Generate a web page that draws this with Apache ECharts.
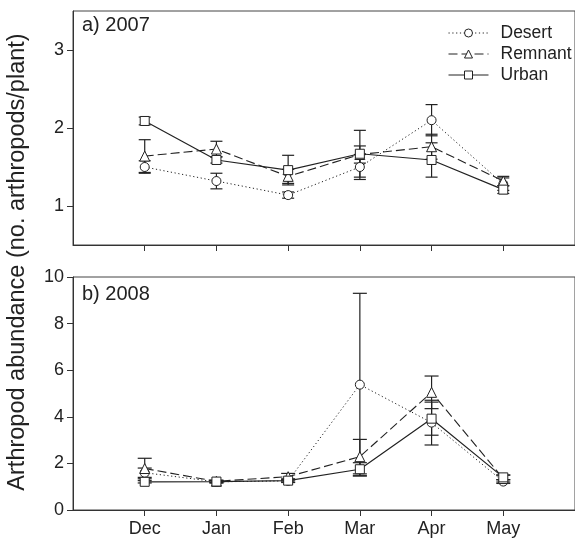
<!DOCTYPE html>
<html lang="en">
<head>
	<meta charset="UTF-8">
	<title>Arthropod abundance</title>
	<script src="https://cdn.jsdelivr.net/npm/echarts@6/dist/echarts.min.js"></script>
	<style>
		* { margin: 0; padding: 0; }
		#container { width: 575px; height: 538px; background: #fff; }
	</style>
</head>
<body>
<div id="container"></div>
<script type="text/javascript">
	// months on the x axis (index 0..5)
	var months = ['Dec', 'Jan', 'Feb', 'Mar', 'Apr', 'May'];

	// a) 2007 - means and error (se)
	var desert07 = [1.50, 1.32, 1.14, 1.50, 2.10, 1.28];
	var desert07Err = [0.08, 0.10, 0.04, 0.16, 0.20, 0.08];
	var remnant07 = [1.64, 1.73, 1.38, 1.66, 1.76, 1.32];
	var remnant07Err = [0.21, 0.10, 0.09, 0.11, 0.16, 0.06];
	var urban07 = [2.09, 1.59, 1.46, 1.67, 1.59, 1.21];
	var urban07Err = [0.05, 0.04, 0.19, 0.30, 0.22, 0.05];

	// b) 2008
	var desert08 = [1.60, 1.21, 1.25, 5.38, 3.75, 1.22];
	var desert08Err = [0.20, 0.05, 0.05, 3.92, 0.96, 0.08];
	var remnant08 = [1.78, 1.23, 1.43, 2.29, 5.05, 1.35];
	var remnant08Err = [0.44, 0.05, 0.14, 0.74, 0.70, 0.15];
	var urban08 = [1.21, 1.22, 1.26, 1.75, 3.92, 1.40];
	var urban08Err = [0.05, 0.05, 0.08, 0.28, 0.71, 0.10];

	var ink = '#222';
	var font = 'Liberation Sans, Arial, sans-serif';

	var myChart = echarts.init(document.getElementById('container'));

	function pts(vals) {
		return vals.map(function (v, i) { return [i, v]; });
	}
	function errData(vals, errs) {
		return vals.map(function (v, i) { return [i, v - errs[i], v + errs[i]]; });
	}

	// error bars with caps
	function errSeries(idx, vals, errs, cap) {
		return {
			type: 'custom',
			xAxisIndex: idx,
			yAxisIndex: idx,
			z: 1,
			silent: true,
			data: errData(vals, errs),
			renderItem: function (params, api) {
				var lo = api.coord([api.value(0), api.value(1)]);
				var hi = api.coord([api.value(0), api.value(2)]);
				var st = { stroke: ink, lineWidth: 1.2 };
				return {
					type: 'group',
					children: [
						{ type: 'line', shape: { x1: lo[0], y1: lo[1], x2: hi[0], y2: hi[1] }, style: st },
						{ type: 'line', shape: { x1: lo[0] - cap, y1: lo[1], x2: lo[0] + cap, y2: lo[1] }, style: st },
						{ type: 'line', shape: { x1: hi[0] - cap, y1: hi[1], x2: hi[0] + cap, y2: hi[1] }, style: st }
					]
				};
			}
		};
	}

	function lineSeries(idx, name, vals, symbol, size, dash, width) {
		return {
			name: name,
			type: 'line',
			xAxisIndex: idx,
			yAxisIndex: idx,
			z: 3,
			data: pts(vals),
			symbol: symbol,
			symbolSize: size,
			showAllSymbol: true,
			lineStyle: { color: ink, width: width, type: dash },
			itemStyle: { color: '#fff', borderColor: ink, borderWidth: 1 },
			emphasis: { disabled: true }
		};
	}

	function xAxis(idx, showLabels) {
		return {
			type: 'value',
			gridIndex: idx,
			min: -1,
			max: 6,
			interval: 1,
			splitLine: { show: false },
			axisLine: { onZero: false, lineStyle: { color: '#333', width: 1 } },
			axisTick: { show: true, length: 6, inside: false, customValues: [0, 1, 2, 3, 4, 5], lineStyle: { color: '#333' } },
			axisLabel: {
				show: showLabels,
				customValues: [0, 1, 2, 3, 4, 5],
				formatter: function (v) { return months[v] || ''; },
				color: ink, fontSize: 18, fontFamily: font, margin: 10
			}
		};
	}

	function yAxis(idx, min, max, interval, ticks) {
		return {
			type: 'value',
			gridIndex: idx,
			min: min,
			max: max,
			interval: interval,
			splitLine: { show: false },
			axisLine: { show: true, onZero: false, lineStyle: { color: '#333', width: 1 } },
			axisTick: { show: true, length: 6, customValues: ticks, lineStyle: { color: '#333' } },
			axisLabel: { customValues: ticks, color: ink, fontSize: 18, fontFamily: font, margin: 9 }
		};
	}

	var option = {
		animation: false,
		backgroundColor: '#fff',
		grid: [
			{ left: 73, top: 11, width: 518, height: 234, show: true, borderColor: '#444', borderWidth: 1 },
			{ left: 73, top: 277, width: 518, height: 234, show: true, borderColor: '#444', borderWidth: 1 }
		],
		xAxis: [xAxis(0, false), xAxis(1, true)],
		yAxis: [
			yAxis(0, 0.5, 3.5, 0.5, [1, 2, 3]),
			yAxis(1, 0, 10, 2, [0, 2, 4, 6, 8, 10])
		],
		legend: {
			data: ['Desert', 'Remnant', 'Urban'],
			orient: 'vertical',
			left: 443,
			top: 19,
			itemWidth: 40,
			itemHeight: 10,
			itemGap: 3,
			selectedMode: false,
			lineStyle: { width: 1 },
			itemStyle: { borderWidth: 1 },
			textStyle: { color: ink, fontSize: 17.5, fontFamily: font, padding: [0, 0, 0, 7] }
		},
		graphic: [
			{ type: 'text', left: 82, top: 15, style: { text: 'a) 2007', fontSize: 20, fontFamily: font, fill: ink } },
			{ type: 'text', left: 82, top: 284, style: { text: 'b) 2008', fontSize: 20, fontFamily: font, fill: ink } },
			{
				type: 'text', x: 18, y: 262, rotation: Math.PI / 2,
				style: {
					text: 'Arthropod abundance (no. arthropods/plant)',
					fontSize: 23.5, fontFamily: font, fill: ink,
					align: 'center', verticalAlign: 'middle'
				}
			}
		],
		series: [
			errSeries(0, desert07, desert07Err, 6),
			errSeries(0, remnant07, remnant07Err, 6),
			errSeries(0, urban07, urban07Err, 6),
			lineSeries(0, 'Desert', desert07, 'circle', 9, [1.2, 2.6], 1),
			lineSeries(0, 'Remnant', remnant07, 'triangle', 10, [9, 4], 1.1),
			lineSeries(0, 'Urban', urban07, 'rect', 9, 'solid', 1.2),

			errSeries(1, desert08, desert08Err, 7),
			errSeries(1, remnant08, remnant08Err, 7),
			errSeries(1, urban08, urban08Err, 7),
			lineSeries(1, 'Desert', desert08, 'circle', 9, [1.2, 2.6], 1),
			lineSeries(1, 'Remnant', remnant08, 'triangle', 10, [9, 4], 1.1),
			lineSeries(1, 'Urban', urban08, 'rect', 9, 'solid', 1.2)
		]
	};

	myChart.setOption(option);
</script>
</body>
</html>
